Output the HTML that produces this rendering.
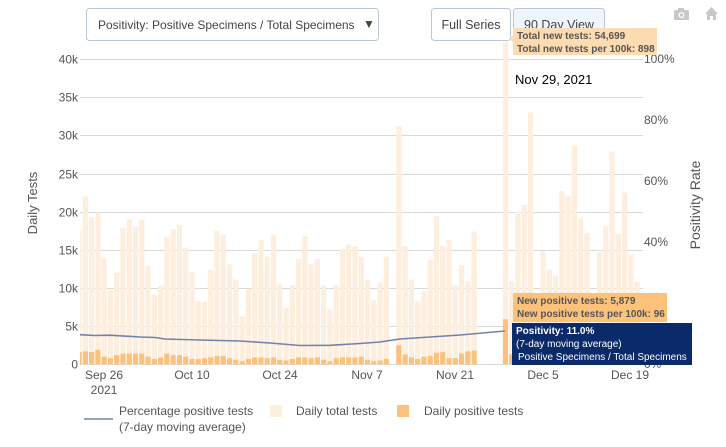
<!DOCTYPE html>
<html><head><meta charset="utf-8"><style>
body{margin:0;background:#fff;width:726px;height:442px;overflow:hidden;font-family:"Liberation Sans",sans-serif}
svg text{font-family:"Liberation Sans",sans-serif}
</style></head><body>
<svg id="s" width="726" height="442" xmlns="http://www.w3.org/2000/svg">
<rect x="86.5" y="8.5" width="292" height="32" rx="3" fill="#fff" stroke="#b9c6d8"/>
<text x="98" y="29" font-size="12" fill="#444">Positivity: Positive Specimens / Total Specimens</text>
<text x="363" y="28" font-size="12" fill="#444">▼</text>
<rect x="431.5" y="8.5" width="79" height="32" rx="3" fill="#fff" stroke="#b9c6d8"/>
<text x="471" y="29" font-size="12.5" fill="#444" text-anchor="middle">Full Series</text>
<rect x="513.5" y="8.5" width="91" height="32" rx="3" fill="#eef5fd" stroke="#b9c6d8"/>
<text x="559" y="29" font-size="12.5" fill="#444" text-anchor="middle">90 Day View</text>
<g fill="#c8c8c8"><rect x="674" y="10" width="15" height="10" rx="1"/><rect x="678" y="8" width="6" height="3"/><circle cx="681.5" cy="15" r="3" fill="#fff"/><circle cx="681.5" cy="15" r="1.7"/>
<polygon points="705,14 711.5,7 718,14 716,14 716,20 713,20 713,16 710,16 710,20 707,20 707,14"/></g>
<g id="grid" stroke="#d9d9d9" stroke-width="1"></g>
<g id="bars"></g>
<polyline id="line" fill="none" stroke="#7084a8" stroke-width="1.6"/>
<g id="yl" font-size="12" fill="#555" text-anchor="end"></g>
<g font-size="12" fill="#555">
<text x="644" y="63">100%</text><text x="644" y="124">80%</text><text x="644" y="185">60%</text><text x="644" y="246">40%</text><text x="644" y="368">0%</text>
</g>
<text transform="translate(37,203) rotate(-90)" font-size="13" fill="#555" text-anchor="middle">Daily Tests</text>
<text transform="translate(700,205) rotate(-90)" font-size="14" fill="#555" text-anchor="middle">Positivity Rate</text>
<g font-size="12" fill="#555" text-anchor="middle">
<text x="104" y="379">Sep 26</text><text x="192" y="379">Oct 10</text><text x="280" y="379">Oct 24</text><text x="367" y="379">Nov 7</text><text x="455" y="379">Nov 21</text><text x="543" y="379">Dec 5</text><text x="630" y="379">Dec 19</text>
<text x="104" y="394">2021</text>
</g>
<line x1="84" y1="419" x2="113" y2="419" stroke="#7084a8" stroke-width="1.5"/>
<g font-size="12" fill="#555">
<text x="119" y="415">Percentage positive tests</text><text x="119" y="431">(7-day moving average)</text>
<rect x="270" y="405" width="12" height="12" fill="#fdeedd"/><text x="296" y="415">Daily total tests</text>
<rect x="397" y="405" width="12" height="12" fill="#fcc27c"/><text x="424" y="415">Daily positive tests</text>
</g>
<polygon points="513,28 657,28 657,55 513,55 513,42 509,39 513,36" fill="#fedbb0"/>
<g font-size="10" fill="#555" font-weight="bold"><text x="517" y="39">Total new tests: 54,699</text><text x="517" y="52">Total new tests per 100k: 898</text></g>
<text x="515" y="84" font-size="13" fill="#000">Nov 29, 2021</text>
<rect x="513" y="293" width="154" height="29" fill="#fcc27c"/>
<g font-size="10" fill="#555" font-weight="bold"><text x="517" y="304">New positive tests: 5,879</text><text x="517" y="317">New positive tests per 100k: 96</text></g>
<rect x="512" y="323" width="180" height="42" fill="#0b2a6a"/>
<g font-size="10" fill="#fff"><text x="516" y="334" font-weight="bold">Positivity: 11.0%</text><text x="516" y="347">(7-day moving average)</text><text x="518" y="360">Positive Specimens / Total Specimens</text></g>
</svg>
<script>
var ns="http://www.w3.org/2000/svg";
function el(t,a,p){var e=document.createElementNS(ns,t);for(var k in a)e.setAttribute(k,a[k]);document.getElementById(p).appendChild(e);return e;}
var y0=364.3,pk=7.63;
for(var i=0;i<=8;i++){var y=Math.round(y0-i*5*pk)+0.5;el("line",{x1:80,x2:643,y1:y,y2:y},"grid");var t=el("text",{x:78,y:y+4},"yl");t.textContent=i==0?"0":(i*5)+"k";}
var tot=[17.5,22,19.3,19.9,13.9,9.7,12,17.9,19,18,18.9,12.9,9.1,10.3,16.7,17.7,18.3,15.3,12.1,8.3,8.2,12.4,17.5,17,13.1,11.1,6.3,9.9,14.6,16.3,14.1,17,10.6,7.4,10.4,13.8,16.8,13.1,13.8,10.3,7.2,10.4,15.1,15.7,15.5,14.1,11.1,8.4,10.7,14.1,0,31.2,15.5,11.1,8.2,9.6,13.7,19.4,15.5,16.3,10.3,13,10.9,17.4,0,0,0,0,42.5,10.9,20,20.9,33,0,14.8,12.4,11.6,22.7,22.1,28.6,19.1,17.2,0,14.7,18.1,27.9,17.1,22.5,14.4,10.8];
var pos=[1.6,1.7,1.6,1.9,1.0,0.8,1.2,1.4,1.4,1.4,1.4,1.0,0.7,0.9,1.4,1.2,1.2,1.0,0.7,0.7,0.8,0.9,1.1,1.1,0.8,0.6,0.4,0.7,0.9,0.9,0.8,0.9,0.6,0.5,0.7,0.9,0.9,0.8,0.9,0.6,0.4,0.8,0.9,0.9,0.9,1.0,0.6,0.4,0.5,0.7,0,2.5,1.3,0.9,0.7,1.0,1.1,1.5,1.6,0.8,0.8,1.4,1.7,1.8,0,0,0,0,5.9,1.3,1.5,1.6,1.7,0,1.2,1.0,1.0,1.6,1.5,1.8,1.3,1.2,0,1.1,1.3,1.7,1.2,1.4,1.0,0.8];
for(var i=0;i<90;i++){var cx=79.1+i*6.27,x=Math.max(80,cx-2.6),w=cx+2.6-x;
var h=Math.min(tot[i]*pk,322);if(h>0)el("rect",{x:x,y:y0-h,width:w,height:h,fill:"#fdeedd"},"bars");
var hp=pos[i]*pk;if(hp>0)el("rect",{x:x,y:y0-hp,width:w,height:hp,fill:"#fcc27c"},"bars");}
var lp=[[80,334.7],[95,335.5],[110,335.2],[140,337],[155,337.5],[165,339],[200,340],[240,341],[270,343],[300,345.5],[330,345.3],[360,343.5],[380,342],[400,339],[430,337],[460,335],[505,331]];
document.getElementById("line").setAttribute("points",lp.map(function(p){return p.join(",")}).join(" "));
</script>
</body></html>
